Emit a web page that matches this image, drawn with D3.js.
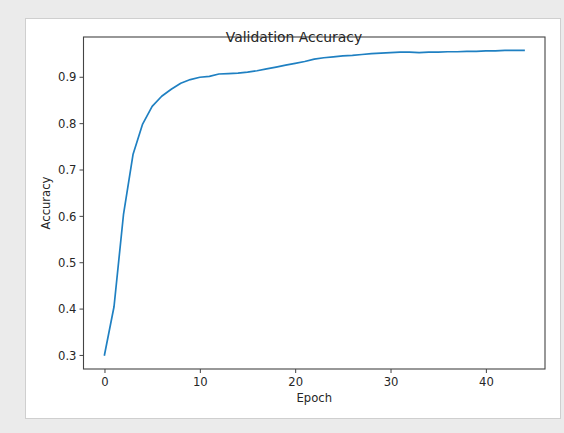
<!DOCTYPE html>
<html>
<head>
<meta charset="utf-8">
<script src="https://cdn.jsdelivr.net/npm/d3@7"></script>
<style>
  html, body { margin: 0; padding: 0; background: #ebebeb; }
  svg { display: block; }
  text { font-family: "DejaVu Sans", sans-serif; fill: #262626; }
</style>
</head>
<body>
<svg id="chart" width="564" height="433"></svg>
<script>
const epochs = d3.range(0, 45);
const accuracy = [
  0.300, 0.404, 0.604, 0.733, 0.798, 0.836, 0.858, 0.873, 0.886, 0.894,
  0.899, 0.901, 0.906, 0.907, 0.908, 0.910, 0.913, 0.917, 0.921, 0.925,
  0.929, 0.933, 0.938, 0.941, 0.943, 0.945, 0.946, 0.948, 0.950, 0.951,
  0.952, 0.953, 0.953, 0.952, 0.953, 0.953, 0.954, 0.954, 0.955, 0.955,
  0.956, 0.956, 0.957, 0.957, 0.957
];
const xTicks = [0, 10, 20, 30, 40];
const yTicks = [0.3, 0.4, 0.5, 0.6, 0.7, 0.8, 0.9];
const titleText = "Validation Accuracy";
const xLabel = "Epoch";
const yLabel = "Accuracy";

const svg = d3.select("#chart");

// figure panel
svg.append("rect")
  .attr("x", 25.5).attr("y", 18.5).attr("width", 535).attr("height", 400)
  .attr("fill", "#ffffff").attr("stroke", "#cfcfcf").attr("stroke-width", 1);

const plot = { left: 83.5, right: 545, top: 37, bottom: 369 };

const x = d3.scaleLinear().domain([-2.2, 46.2]).range([plot.left, plot.right]);
const y = d3.scaleLinear().domain([0.2697, 0.9858]).range([plot.bottom, plot.top]);

// axes
const xAxis = d3.axisBottom(x).tickValues(xTicks).tickFormat(d3.format("d")).tickSize(4).tickSizeOuter(0);
const yAxis = d3.axisLeft(y).tickValues(yTicks).tickFormat(d3.format(".1f")).tickSize(4).tickSizeOuter(0);

const gx = svg.append("g").attr("transform", `translate(0,${plot.bottom})`).call(xAxis);
const gy = svg.append("g").attr("transform", `translate(${plot.left},0)`).call(yAxis);

[gx, gy].forEach(g => {
  g.select(".domain").remove();
  g.selectAll(".tick line").attr("stroke", "#444").attr("stroke-width", 1);
  g.selectAll(".tick text").attr("font-size", "11.6px").attr("fill", "#262626")
    .style("font-family", '"DejaVu Sans", sans-serif');
});
gx.selectAll(".tick text").attr("dy", null).attr("y", 17);
gy.selectAll(".tick text").attr("x", -7).attr("dy", "0.36em");

// frame
svg.append("rect")
  .attr("x", plot.left).attr("y", plot.top)
  .attr("width", plot.right - plot.left).attr("height", plot.bottom - plot.top)
  .attr("fill", "none").attr("stroke", "#444").attr("stroke-width", 1.1);

// line
const line = d3.line().x((d, i) => x(epochs[i])).y(d => y(d));
svg.append("path")
  .datum(accuracy)
  .attr("d", line)
  .attr("fill", "none")
  .attr("stroke", "#1f80c2")
  .attr("stroke-width", 1.7)
  .attr("stroke-linejoin", "round")
  .attr("stroke-linecap", "square");

// title
svg.append("text")
  .attr("x", 294).attr("y", 42)
  .attr("text-anchor", "middle")
  .attr("font-size", "13.9px")
  .text(titleText);

// axis labels
svg.append("text")
  .attr("x", (plot.left + plot.right) / 2).attr("y", 402)
  .attr("text-anchor", "middle")
  .attr("font-size", "11.6px")
  .text(xLabel);

svg.append("text")
  .attr("transform", `translate(50,${(plot.top + plot.bottom) / 2}) rotate(-90)`)
  .attr("text-anchor", "middle")
  .attr("font-size", "11.6px")
  .text(yLabel);
</script>
</body>
</html>
